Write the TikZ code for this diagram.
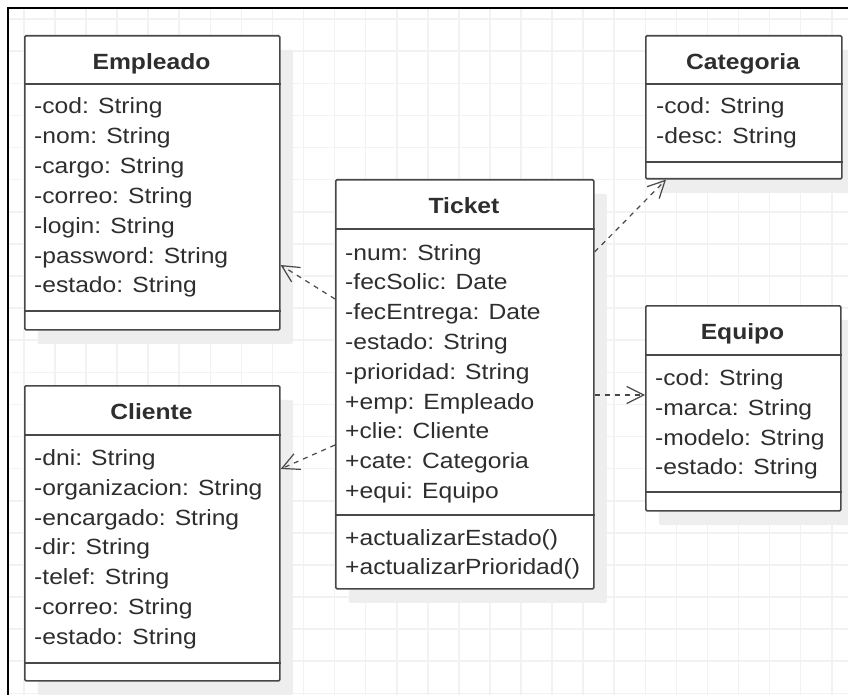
\documentclass[tikz,border=0pt]{standalone}
\usepackage{fontspec}
\setmainfont{Liberation Sans}[FakeStretch=1.12]
\usetikzlibrary{arrows.meta,shadows}
\definecolor{gridc}{HTML}{F2F2F2}
\definecolor{shadc}{HTML}{EEEEEE}
\definecolor{linec}{HTML}{484848}
\definecolor{textc}{HTML}{2E2E2E}
\tikzset{
 classbox/.style={draw=linec, line width=1.6pt, fill=white, rounded corners=1.2pt, anchor=north west, inner sep=0pt,
   general shadow={fill=shadc, shadow xshift=13pt, shadow yshift=-14pt}},
 sepline/.style={draw=linec, line width=1.6pt},
 ctitle/.style={font=\fontsize{22}{26}\selectfont\bfseries, text=textc, anchor=base, inner sep=0pt},
 attr/.style={font=\fontsize{22}{26}\selectfont, text=textc, anchor=base west, inner sep=0pt},
 dep/.style={draw=linec, line width=1.2pt, dash pattern=on 5pt off 5pt, -{Straight Barb[length=17pt,width=17pt,line width=1.2pt]}},
}
\newcommand\attrlist[4]{\foreach \t [count=\i from 0] in {#4}{\node[attr] (#1\i) at (#2,{#3+29.8*\i}) {\t};}}
\begin{document}
\begin{tikzpicture}[x=1pt,y=-1pt]
\useasboundingbox (0,0) rectangle (848,695);
\fill[white] (0,0) rectangle (848,695);
% grid
\foreach \k in {0,...,26} \draw[gridc, line width=1.6pt] ({23.9+31.07*\k},8) -- ({23.9+31.07*\k},695);
\foreach \k in {0,...,21} \draw[gridc, line width=1.6pt] (8,{19.2+32.1*\k}) -- (848,{19.2+32.1*\k});
% frame
\draw[black, line width=2.5pt] (8,695) -- (8,8) -- (848,8);

% Empleado
\node[classbox, minimum width=255pt, minimum height=294pt] (emp) at (24,35) {};
\draw[sepline] ([yshift=-49pt]emp.north west) -- ([yshift=-49pt]emp.north east);
\draw[sepline] ([yshift=-276pt]emp.north west) -- ([yshift=-276pt]emp.north east);
\node[ctitle] (empt) at (151.5,69.3) {Empleado};
\attrlist{empa}{34}{114}{-cod: String,-nom: String,-cargo: String,-correo: String,-login: String,-password: String,-estado: String}

% Cliente
\node[classbox, minimum width=255pt, minimum height=295pt] (cli) at (24,385) {};
\draw[sepline] ([yshift=-50pt]cli.north west) -- ([yshift=-50pt]cli.north east);
\draw[sepline] ([yshift=-278pt]cli.north west) -- ([yshift=-278pt]cli.north east);
\node[ctitle] (clit) at (151.5,419.3) {Cliente};
\attrlist{clia}{34}{465.5}{-dni: String,-organizacion: String,-encargado: String,-dir: String,-telef: String,-correo: String,-estado: String}

% Ticket
\node[classbox, minimum width=258pt, minimum height=409pt] (tic) at (335,179) {};
\draw[sepline] ([yshift=-50pt]tic.north west) -- ([yshift=-50pt]tic.north east);
\draw[sepline] ([yshift=-336pt]tic.north west) -- ([yshift=-336pt]tic.north east);
\node[ctitle] (tict) at (464,213.3) {Ticket};
\attrlist{tica}{345}{260}{-num: String,-fecSolic: Date,-fecEntrega: Date,-estado: String,-prioridad: String,+emp: Empleado,+clie: Cliente,+cate: Categoria,+equi: Equipo}
\attrlist{ticm}{345}{545}{+actualizarEstado(),+actualizarPrioridad()}

% Categoria
\node[classbox, minimum width=196pt, minimum height=143pt] (cat) at (645,35) {};
\draw[sepline] ([yshift=-49pt]cat.north west) -- ([yshift=-49pt]cat.north east);
\draw[sepline] ([yshift=-127pt]cat.north west) -- ([yshift=-127pt]cat.north east);
\node[ctitle] (catt) at (743,69.3) {Categoria};
\attrlist{cata}{656}{114}{-cod: String,-desc: String}

% Equipo
\node[classbox, minimum width=195pt, minimum height=205pt] (equ) at (645,305) {};
\draw[sepline] ([yshift=-50pt]equ.north west) -- ([yshift=-50pt]equ.north east);
\draw[sepline] ([yshift=-187pt]equ.north west) -- ([yshift=-187pt]equ.north east);
\node[ctitle] (equt) at (742.5,339.3) {Equipo};
\attrlist{equa}{655}{385.5}{-cod: String,-marca: String,-modelo: String,-estado: String}

% dependencies
\draw[dep] ([yshift=-120pt]tic.north west) -- ([yshift=-230pt]emp.north east);
\draw[dep] ([yshift=-266pt]tic.north west) -- ([yshift=-84pt]cli.north east);
\draw[dep] ([yshift=-73pt]tic.north east) -- ([xshift=21pt]cat.south west);
\draw[dep] ([yshift=-216pt]tic.north east) -- ([yshift=-90pt]equ.north west);
\end{tikzpicture}
\end{document}
